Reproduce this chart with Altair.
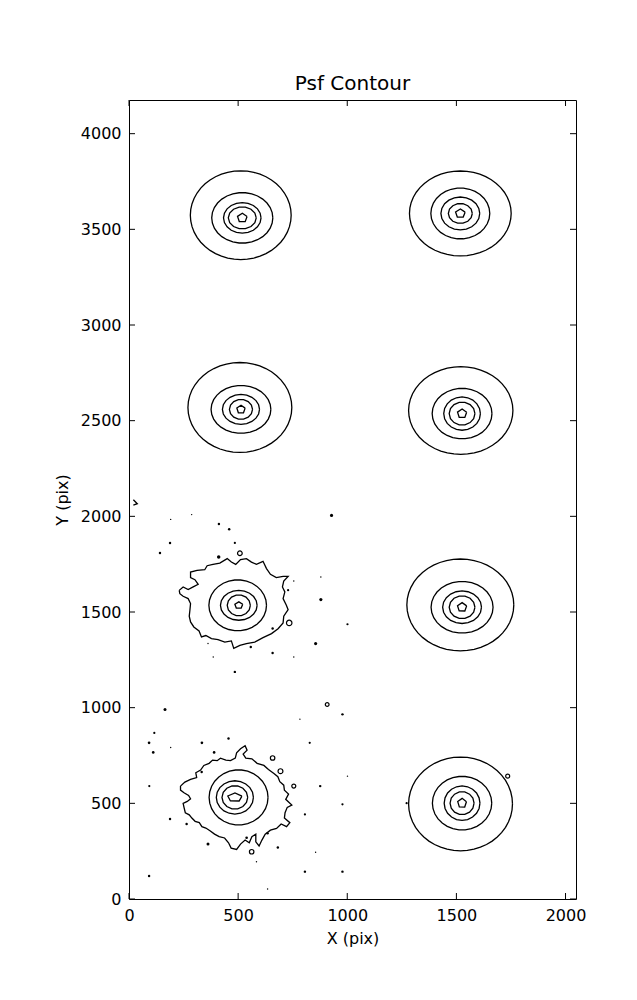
import math
import altair as alt
import pandas as pd

# ---------------- data ----------------
X_MAX, Y_MAX = 2048, 4176
x_ticks = [0, 500, 1000, 1500, 2000]
y_ticks = [0, 500, 1000, 1500, 2000, 2500, 3000, 3500, 4000]

# PSF centres (detector pixels)
psf_x = [519, 1518, 513, 1526, 503, 1526, 485, 1526]
psf_y = [3560, 3583, 2559, 2537, 1535, 1525, 531, 501]
psf_noisy = [False, False, False, False, True, False, True, False]

# outermost contour (smooth PSFs): half-sizes and centre shift
outer_rx = [231, 233, 238, 239, 0, 245, 0, 238]
outer_ry = [232, 222, 235, 229, 0, 240, 0, 245]
outer_dx = [-7, 0, -5, -6, 0, -8, 0, -7]
outer_dy = [14, 0, 10, 16, 0, 12, 0, -4]

# inner contour levels: half-sizes
l2_rx = [140, 135, 137, 137, 132, 142, 135, 136]
l2_ry = [132, 133, 125, 132, 133, 135, 144, 140]
l2_dx = [0, 0, 0, 0, -5, 0, 17, 0]
l3_rx = [86, 89, 85, 84, 84, 89, 85, 82]
l3_ry = [80, 86, 78, 87, 78, 85, 87, 90]
l4_rx = [64, 55, 53, 59, 53, 59, 59, 55]
l4_ry = [58, 52, 52, 60, 55, 60, 61, 60]
l5_rx = [23, 23, 20, 22, 19, 22, 34, 21]
l5_ry = [24, 23, 22, 24, 18, 24, 23, 25]

# ragged outer contour of the noisy PSF near (503, 1535): offsets from centre
n5_dx = [-273, -255, -232, -209, -186, -201, -221, -221, -191, -156, -145, -118, -87, -53,
         -34, -14, 8, 35, 58, 81, 111, 127, 145, 172, 203, 226, 206, 200, 211, 203, 218,
         226, 206, 203, 180, 150, 111, 73, 35, 5, -23, -34, -64, -95, -125, -151, -171,
         -182, -206, -221, -227, -224, -221, -232, -255, -270]
n5_dy = [78, 96, 82, 96, 110, 134, 145, 174, 183, 186, 207, 214, 221, 244, 226, 214, 239,
         244, 226, 214, 230, 192, 162, 145, 151, 151, 127, 96, 70, 35, 0, -23, -57, -92,
         -122, -148, -169, -192, -200, -209, -225, -186, -192, -179, -174, -158, -165, -134,
         -113, -87, -57, -26, 9, 35, 47, 61]

# ragged outer contour of the noisy PSF near (485, 531)
n7_dx = [-249, -229, -203, -175, -179, -157, -142, -118, -102, -81, -66, -41, -20, 2, 8,
         26, 47, 56, 38, 50, 78, 102, 133, 154, 179, 197, 206, 224, 227, 246, 233, 261,
         240, 230, 227, 252, 237, 212, 191, 163, 139, 124, 111, 96, 96, 78, 66, 47, 26, 8,
         -17, -29, -47, -72, -93, -114, -133, -151, -163, -182, -197, -209, -227, -233,
         -237, -218, -203, -212, -233, -249]
n7_dy = [59, 80, 94, 104, 129, 143, 167, 178, 195, 192, 205, 195, 192, 205, 233, 254, 270,
         247, 226, 205, 202, 178, 167, 146, 125, 108, 82, 64, 38, 17, -10, -40, -52, -80,
         -108, -132, -153, -139, -162, -171, -192, -223, -254, -232, -192, -205, -237, -223,
         -244, -272, -265, -237, -212, -205, -192, -174, -160, -153, -132, -125, -108, -91,
         -80, -52, -31, -21, -7, 10, 24, 38]

# small open contour fragment at the left edge
edge_x = [20, 38, 20]
edge_y = [2087, 2066, 2059]

# isolated noise specks (filled) and tiny closed loops
dot_x = [928, 287, 191, 412, 459, 188, 485, 142, 411, 879, 755, 729, 879, 1001, 658, 855,
         362, 558, 658, 386, 755, 485, 165, 978, 783, 116, 92, 111, 191, 334, 456, 390,
         828, 333, 876, 1001, 93, 978, 806, 188, 264, 635, 539, 362, 682, 855, 584, 92,
         806, 978, 635, 1272]
dot_y = [2005, 2009, 1984, 1960, 1932, 1861, 1861, 1808, 1788, 1683, 1662, 1614, 1565, 1436,
         1414, 1335, 1335, 1317, 1286, 1265, 1265, 1187, 991, 965, 940, 868, 816, 766, 792,
         816, 839, 766, 816, 664, 590, 642, 590, 495, 442, 418, 392, 343, 320, 287, 269,
         244, 195, 120, 143, 143, 52, 501]
dot_s = [10, 2, 2, 6, 6, 6, 5, 6, 12, 2, 2, 5, 10, 5, 6, 10, 2, 6, 6, 2, 2, 6, 9, 6, 2, 5,
         7, 7, 2, 7, 6, 7, 5, 6, 6, 2, 5, 5, 5, 6, 6, 6, 7, 9, 6, 2, 2, 6, 6, 6, 2, 5]

loop_x = [508, 734, 908, 658, 694, 755, 562, 1735]
loop_y = [1807, 1443, 1017, 737, 668, 590, 247, 642]
loop_s = [22, 30, 14, 20, 24, 16, 20, 16]

# ---------------- build tables ----------------
rows = []


def add_path(cid, xs, ys, closed=True):
    if closed:
        xs = list(xs) + [xs[0]]
        ys = list(ys) + [ys[0]]
    for i, (a, b) in enumerate(zip(xs, ys)):
        rows.append({"cid": cid, "i": i, "x": a, "y": b})


def ellipse(cx, cy, rx, ry, n, phase=0.0):
    xs = [cx + rx * math.cos(phase + 2 * math.pi * k / n) for k in range(n)]
    ys = [cy + ry * math.sin(phase + 2 * math.pi * k / n) for k in range(n)]
    return xs, ys


for p in range(len(psf_x)):
    cx, cy = psf_x[p], psf_y[p]
    if psf_noisy[p]:
        dx, dy = (n5_dx, n5_dy) if p == 4 else (n7_dx, n7_dy)
        add_path(f"p{p}o", [cx + v for v in dx], [cy + v for v in dy])
    else:
        xs, ys = ellipse(cx + outer_dx[p], cy + outer_dy[p], outer_rx[p], outer_ry[p], 48)
        add_path(f"p{p}o", xs, ys)
    xs, ys = ellipse(cx + l2_dx[p], cy, l2_rx[p], l2_ry[p], 30)
    add_path(f"p{p}l2", xs, ys)
    xs, ys = ellipse(cx, cy, l3_rx[p], l3_ry[p], 20)
    add_path(f"p{p}l3", xs, ys)
    xs, ys = ellipse(cx, cy, l4_rx[p], l4_ry[p], 14)
    add_path(f"p{p}l4", xs, ys)
    xs, ys = ellipse(cx, cy, l5_rx[p], l5_ry[p], 5, phase=0.3)
    add_path(f"p{p}l5", xs, ys)

add_path("edge", edge_x, edge_y, closed=False)

lines_df = pd.DataFrame(rows)
dots_df = pd.DataFrame({"x": dot_x, "y": dot_y, "s": dot_s})
loops_df = pd.DataFrame({"x": loop_x, "y": loop_y, "s": loop_s})
xt_df = pd.DataFrame({"x": x_ticks})
yt_df = pd.DataFrame({"y": y_ticks})

W, H = 447, 799
FONT = "DejaVu Sans"
TL = 6

xscale = alt.Scale(domain=[0, X_MAX], nice=False, zero=False)
yscale = alt.Scale(domain=[0, Y_MAX], nice=False, zero=False)

xaxis = alt.Axis(values=x_ticks, title="X (pix)", ticks=False, tickSize=0, domain=False,
                 grid=False, labelPadding=8, titlePadding=7, format="d", labelFlush=False)
yaxis = alt.Axis(values=y_ticks, title="Y (pix)", ticks=False, tickSize=0, domain=False,
                 grid=False, labelPadding=8, titlePadding=10, format="d", labelFlush=False)

contours = alt.Chart(lines_df).mark_line(color="black", strokeWidth=1.3).encode(
    x=alt.X("x:Q", scale=xscale, axis=xaxis),
    y=alt.Y("y:Q", scale=yscale, axis=yaxis),
    detail="cid:N",
    order="i:Q",
)

dots = alt.Chart(dots_df).mark_circle(color="black", opacity=1).encode(
    x="x:Q", y="y:Q", size=alt.Size("s:Q", scale=None, legend=None)
)

loops = alt.Chart(loops_df).mark_point(shape="circle", filled=False, color="black",
                                       strokeWidth=1.2, opacity=1).encode(
    x="x:Q", y="y:Q", size=alt.Size("s:Q", scale=None, legend=None)
)

xt_bottom = alt.Chart(xt_df).mark_rule(color="black", strokeWidth=1).encode(
    x="x:Q", y=alt.value(H), y2=alt.value(H - TL))
xt_top = alt.Chart(xt_df).mark_rule(color="black", strokeWidth=1).encode(
    x="x:Q", y=alt.value(0), y2=alt.value(TL))
yt_left = alt.Chart(yt_df).mark_rule(color="black", strokeWidth=1).encode(
    y="y:Q", x=alt.value(0), x2=alt.value(TL))
yt_right = alt.Chart(yt_df).mark_rule(color="black", strokeWidth=1).encode(
    y="y:Q", x=alt.value(W), x2=alt.value(W - TL))

chart = alt.layer(contours, dots, loops, xt_bottom, xt_top, yt_left, yt_right).properties(
    width=W,
    height=H,
    title=alt.TitleParams("Psf Contour", fontSize=20, font=FONT, fontWeight="normal",
                          color="black", offset=6, anchor="middle"),
    autosize=alt.AutoSizeParams(type="none"),
    padding={"left": 121, "top": 92, "right": 53, "bottom": 93},
).configure_view(
    stroke="black", strokeWidth=1
).configure_axis(
    labelFont=FONT, labelFontSize=16, labelColor="black",
    titleFont=FONT, titleFontSize=16, titleFontWeight="normal", titleColor="black",
)

chart.save("out.html", embed_options={"renderer": "svg", "actions": False})
